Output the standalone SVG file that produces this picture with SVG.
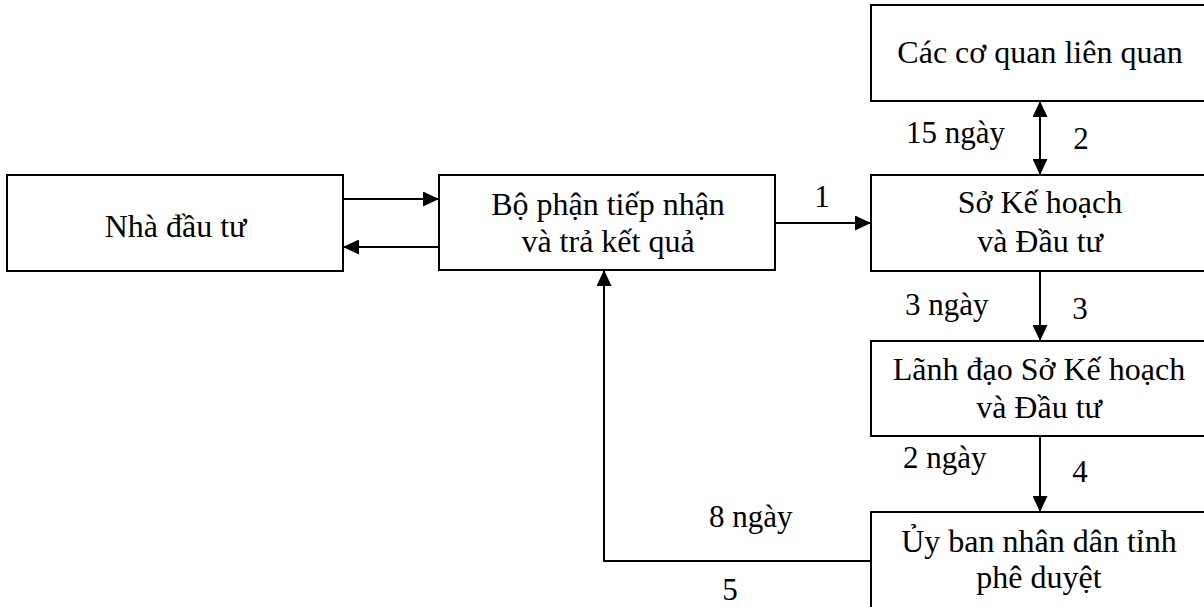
<svg xmlns="http://www.w3.org/2000/svg" width="1204" height="607" viewBox="0 0 1204 607">
  <style>
    .box { fill: #ffffff; stroke: #000000; stroke-width: 2; }
    .t { font-family: "Liberation Serif", "Times New Roman", serif; font-size: 32px; fill: #000000; text-anchor: middle; }
    .lbl { font-family: "Liberation Serif", "Times New Roman", serif; font-size: 31px; fill: #000000; }
    .num { text-anchor: middle; }
    .conn { fill: none; stroke: #000000; stroke-width: 2; }
  </style>
  <defs>
    <marker id="arrow" viewBox="0 0 16 15" refX="16" refY="7.5" markerWidth="16" markerHeight="15" markerUnits="userSpaceOnUse" orient="auto-start-reverse">
      <path d="M0,0 L16,7.5 L0,15 Z" fill="#000000"/>
    </marker>
  </defs>
  <rect width="1204" height="607" fill="#ffffff"/>

  <g id="node-nha-dau-tu">
    <rect class="box" x="7" y="175" width="336" height="96"/>
    <text class="t" x="175.5" y="237">Nhà đầu tư</text>
  </g>
  <g id="node-bo-phan">
    <rect class="box" x="439" y="175" width="336" height="95"/>
    <text class="t" x="608" y="215">Bộ phận tiếp nhận</text>
    <text class="t" x="608" y="252">và trả kết quả</text>
  </g>
  <g id="node-co-quan">
    <rect class="box" x="871" y="5" width="345" height="96"/>
    <text class="t" x="1040" y="63">Các cơ quan liên quan</text>
  </g>
  <g id="node-so-khdt">
    <rect class="box" x="871" y="175" width="345" height="96"/>
    <text class="t" x="1040" y="213">Sở Kế hoạch</text>
    <text class="t" x="1040" y="252">và Đầu tư</text>
  </g>
  <g id="node-lanh-dao">
    <rect class="box" x="871" y="341" width="345" height="95"/>
    <text class="t" x="1039" y="380">Lãnh đạo Sở Kế hoạch</text>
    <text class="t" x="1039" y="418">và Đầu tư</text>
  </g>
  <g id="node-ubnd">
    <rect class="box" x="871" y="512" width="345" height="100"/>
    <text class="t" x="1039" y="552">Ủy ban nhân dân tỉnh</text>
    <text class="t" x="1039" y="588">phê duyệt</text>
  </g>

  <g id="connectors">
    <line class="conn" x1="343" y1="199" x2="439" y2="199" marker-end="url(#arrow)"/>
    <line class="conn" x1="439" y1="247" x2="343" y2="247" marker-end="url(#arrow)"/>
    <line class="conn" x1="775" y1="223" x2="871" y2="223" marker-end="url(#arrow)"/>
    <line class="conn" x1="1040" y1="101" x2="1040" y2="175" marker-start="url(#arrow)" marker-end="url(#arrow)"/>
    <line class="conn" x1="1040" y1="271" x2="1040" y2="341" marker-end="url(#arrow)"/>
    <line class="conn" x1="1040" y1="436" x2="1040" y2="512" marker-end="url(#arrow)"/>
    <polyline class="conn" points="871,561 604,561 604,270" marker-end="url(#arrow)"/>
  </g>

  <g id="labels">
    <text class="lbl num" x="822" y="207">1</text>
    <text class="lbl" x="906" y="143">15 ngày</text>
    <text class="lbl num" x="1081" y="149">2</text>
    <text class="lbl" x="905" y="315">3 ngày</text>
    <text class="lbl num" x="1080" y="319">3</text>
    <text class="lbl" x="903" y="468">2 ngày</text>
    <text class="lbl num" x="1080" y="482">4</text>
    <text class="lbl" x="709" y="527">8 ngày</text>
    <text class="lbl num" x="730" y="600">5</text>
  </g>
</svg>
